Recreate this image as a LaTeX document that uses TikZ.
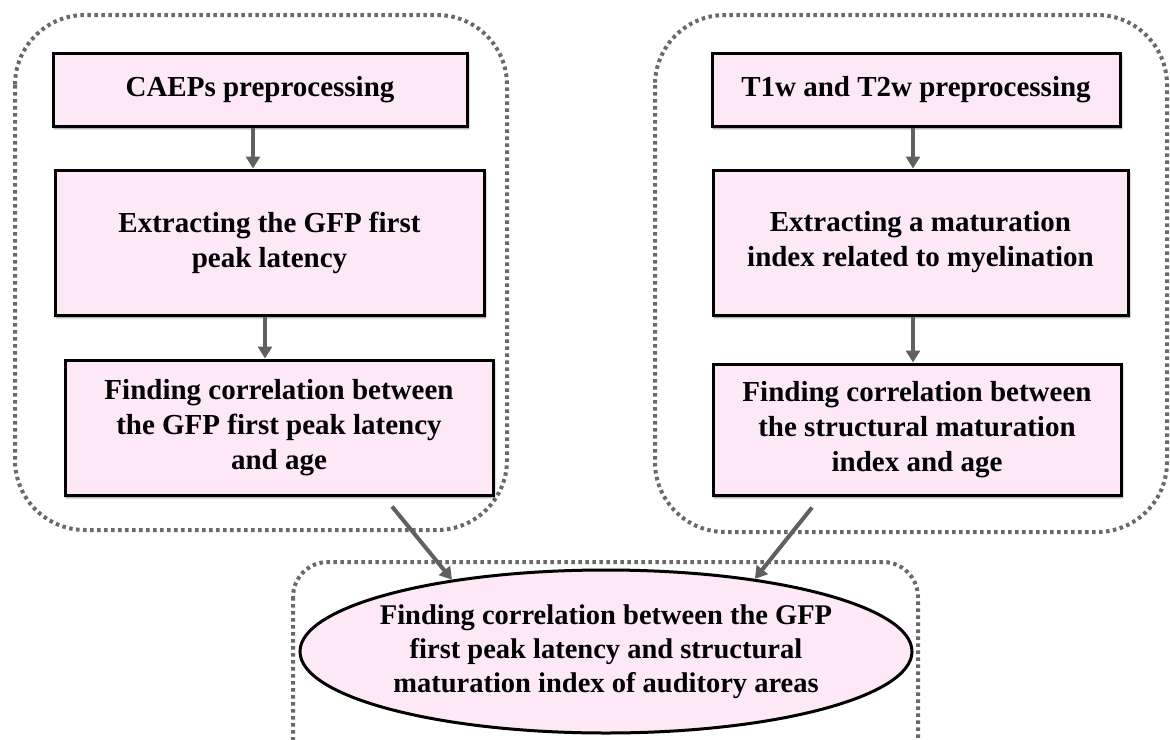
\documentclass[tikz,border=0pt]{standalone}
\usepackage{fontspec}
\setmainfont{Liberation Serif}
\usetikzlibrary{arrows.meta,shapes.geometric,shadows.blur}
\definecolor{boxpink}{RGB}{252,233,245}
\definecolor{linkgray}{RGB}{96,96,96}
\definecolor{groupgray}{RGB}{105,105,105}
\tikzset{
  stepbox/.style={draw=black, line width=3pt, fill=boxpink, inner sep=0pt,
    align=center, font=\fontsize{29}{35}\selectfont\bfseries,
    blur shadow={shadow xshift=1.5pt, shadow yshift=-2.5pt, shadow blur steps=6,
      shadow blur radius=2pt, shadow opacity=50}},
  finalbox/.style={ellipse, draw=black, line width=3pt, fill=boxpink,
    inner xsep=-30pt, inner ysep=0pt,
    align=center, font=\fontsize{28.5}{34}\selectfont\bfseries},
  link/.style={draw=linkgray, line width=4pt, -{Triangle[length=12pt,width=14pt]}},
  group/.style={draw=groupgray, line width=4pt, dash pattern=on 3.5pt off 3.5pt}
}
\begin{document}
\begin{tikzpicture}[x=1pt,y=-1pt]
\useasboundingbox (0,0) rectangle (1170,739);

% dotted grouping frames
\draw[group, rounded corners=70pt] (15,15) rectangle (507,530);
\draw[group, rounded corners=70pt] (655,15) rectangle (1167,532);
\draw[group, rounded corners=35pt] (293,562) rectangle (918,790);

% left pipeline: CAEPs
\node[stepbox, minimum width=414pt, minimum height=73pt] (L1) at (260,89.5)
  {CAEPs preprocessing};
\node[stepbox, minimum width=429pt, minimum height=145pt] (L2) at (269.5,242.5)
  {Extracting the GFP first\\peak latency};
\node[stepbox, minimum width=428pt, minimum height=135pt] (L3) at (279,427.5)
  {Finding correlation between\\the GFP first peak latency\\and age};

% right pipeline: MRI
\node[stepbox, minimum width=408pt, minimum height=73pt] (R1) at (916,89.5)
  {T1w and T2w preprocessing};
\node[stepbox, minimum width=415pt, minimum height=145pt] (R2) at (920.5,242.5)
  {Extracting a maturation\\index related to myelination};
\node[stepbox, minimum width=408pt, minimum height=131pt] (R3) at (917,429.5)
  {Finding correlation between\\the structural maturation\\index and age};

% combined analysis
\node[finalbox, minimum width=612pt, minimum height=163pt] (E) at (606,651.5)
  {Finding correlation between the GFP\\first peak latency and structural\\maturation index of auditory areas};

% connectors
\draw[link] ([xshift=-7pt]L1.south) -- ([xshift=-16.5pt]L2.north);
\draw[link] ([xshift=-4.5pt]L2.south) -- ([xshift=-14pt]L3.north);
\draw[link] ([xshift=-3pt]R1.south) -- ([xshift=-7.5pt]R2.north);
\draw[link] ([xshift=-7.5pt]R2.south) -- ([xshift=-4pt]R3.north);

\coordinate (lfrom) at ([shift={(113,10)}]L3.south);
\coordinate (rfrom) at ([shift={(-105,11)}]R3.south);
\draw[link] (lfrom) -- (E.155);
\draw[link] (rfrom) -- (E.26);
\end{tikzpicture}
\end{document}
